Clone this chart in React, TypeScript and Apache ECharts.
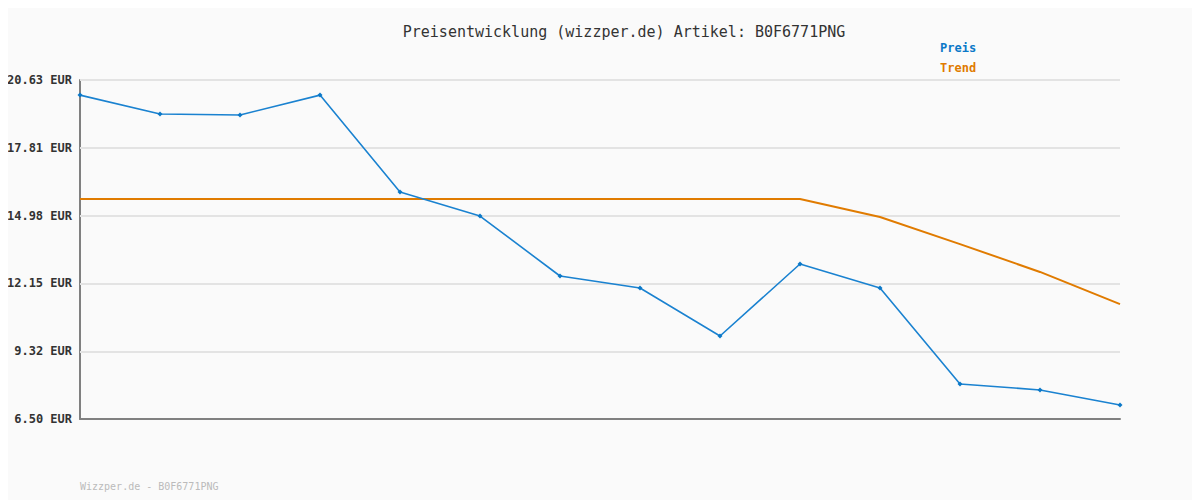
import React, { useEffect, useRef } from "react";
import * as echarts from "echarts";

const categories = ["1", "2", "3", "4", "5", "6", "7", "8", "9", "10", "11", "12", "13", "14"];
const preis = [20.0, 19.21, 19.17, 20.0, 15.96, 14.96, 12.46, 11.96, 9.96, 12.96, 11.96, 7.96, 7.71, 7.08];
const trend = [15.67, 15.67, 15.67, 15.67, 15.67, 15.67, 15.67, 15.67, 15.67, 15.67, 14.92, 13.79, 12.63, 11.29];
const yTicks = [6.5, 9.32, 12.15, 14.98, 17.81, 20.63];
const titleText = "Preisentwicklung (wizzper.de) Artikel: B0F6771PNG";
const footerText = "Wizzper.de - B0F6771PNG";

const MONO = "'DejaVu Sans Mono', monospace";

export default function App() {
  const ref = useRef<HTMLDivElement>(null);
  useEffect(() => {
    if (!ref.current) return;
    const chart = echarts.init(ref.current, null, { renderer: "svg" });
    chart.setOption({
      animation: false,
      backgroundColor: "#fafafa",
      title: {
        text: titleText,
        left: 619,
        textAlign: "center",
        top: 19,
        textStyle: { fontFamily: MONO, fontSize: 15, fontWeight: "normal", color: "#333" },
      },
      legend: {
        orient: "vertical",
        left: 930,
        top: 37,
        itemGap: 8,
        icon: "none",
        itemWidth: 0,
        itemHeight: 10,
        selectedMode: false,
        data: [
          { name: "Preis", textStyle: { color: "#0b78c8" } },
          { name: "Trend", textStyle: { color: "#e07b00" } },
        ],
        textStyle: { fontFamily: MONO, fontSize: 12, fontWeight: "bold", padding: 0 },
      },
      grid: { left: 80, right: 80, top: 80, bottom: 81, containLabel: false },
      xAxis: {
        type: "category",
        data: categories,
        boundaryGap: false,
        axisLine: { lineStyle: { color: "#808080", width: 2 } },
        axisTick: { show: false },
        axisLabel: { show: false },
        splitLine: { show: false },
      },
      yAxis: {
        type: "value",
        min: 6.5,
        max: 20.63,
        axisLine: { show: true, lineStyle: { color: "#808080", width: 2 } },
        axisTick: { show: false, customValues: yTicks },
        axisLabel: {
          customValues: yTicks,
          formatter: (v: number) => v.toFixed(2) + " EUR",
          fontFamily: MONO,
          fontSize: 12,
          fontWeight: "bold",
          color: "#333",
          margin: 8,
        },
        splitLine: { show: false },
      },
      series: [
        {
          name: "Preis",
          type: "line",
          data: preis,
          color: "#0b78c8",
          symbol: "diamond",
          symbolSize: 5,
          lineStyle: { width: 1.6, color: "#1a82d0" },
          itemStyle: { color: "#0b78c8" },
          z: 3,
          markLine: {
            silent: true,
            symbol: "none",
            label: { show: false },
            lineStyle: { color: "#e3e3e3", width: 2, type: "solid" },
            data: yTicks.slice(1).map((v) => ({ yAxis: v })),
            z: 1,
          },
        },
        {
          name: "Trend",
          type: "line",
          data: trend,
          color: "#e07b00",
          symbol: "none",
          lineStyle: { width: 2, color: "#e07b00" },
          z: 2,
        },
      ],
      graphic: [
        {
          type: "text",
          left: 80,
          top: 481,
          style: { text: footerText, fontFamily: MONO, fontSize: 10, fill: "#bbbbbb" },
        },
      ],
    });
    return () => chart.dispose();
  }, []);
  return <div ref={ref} style={{ width: 1200, height: 500, marginLeft: -8, marginTop: -8 }} />;
}
